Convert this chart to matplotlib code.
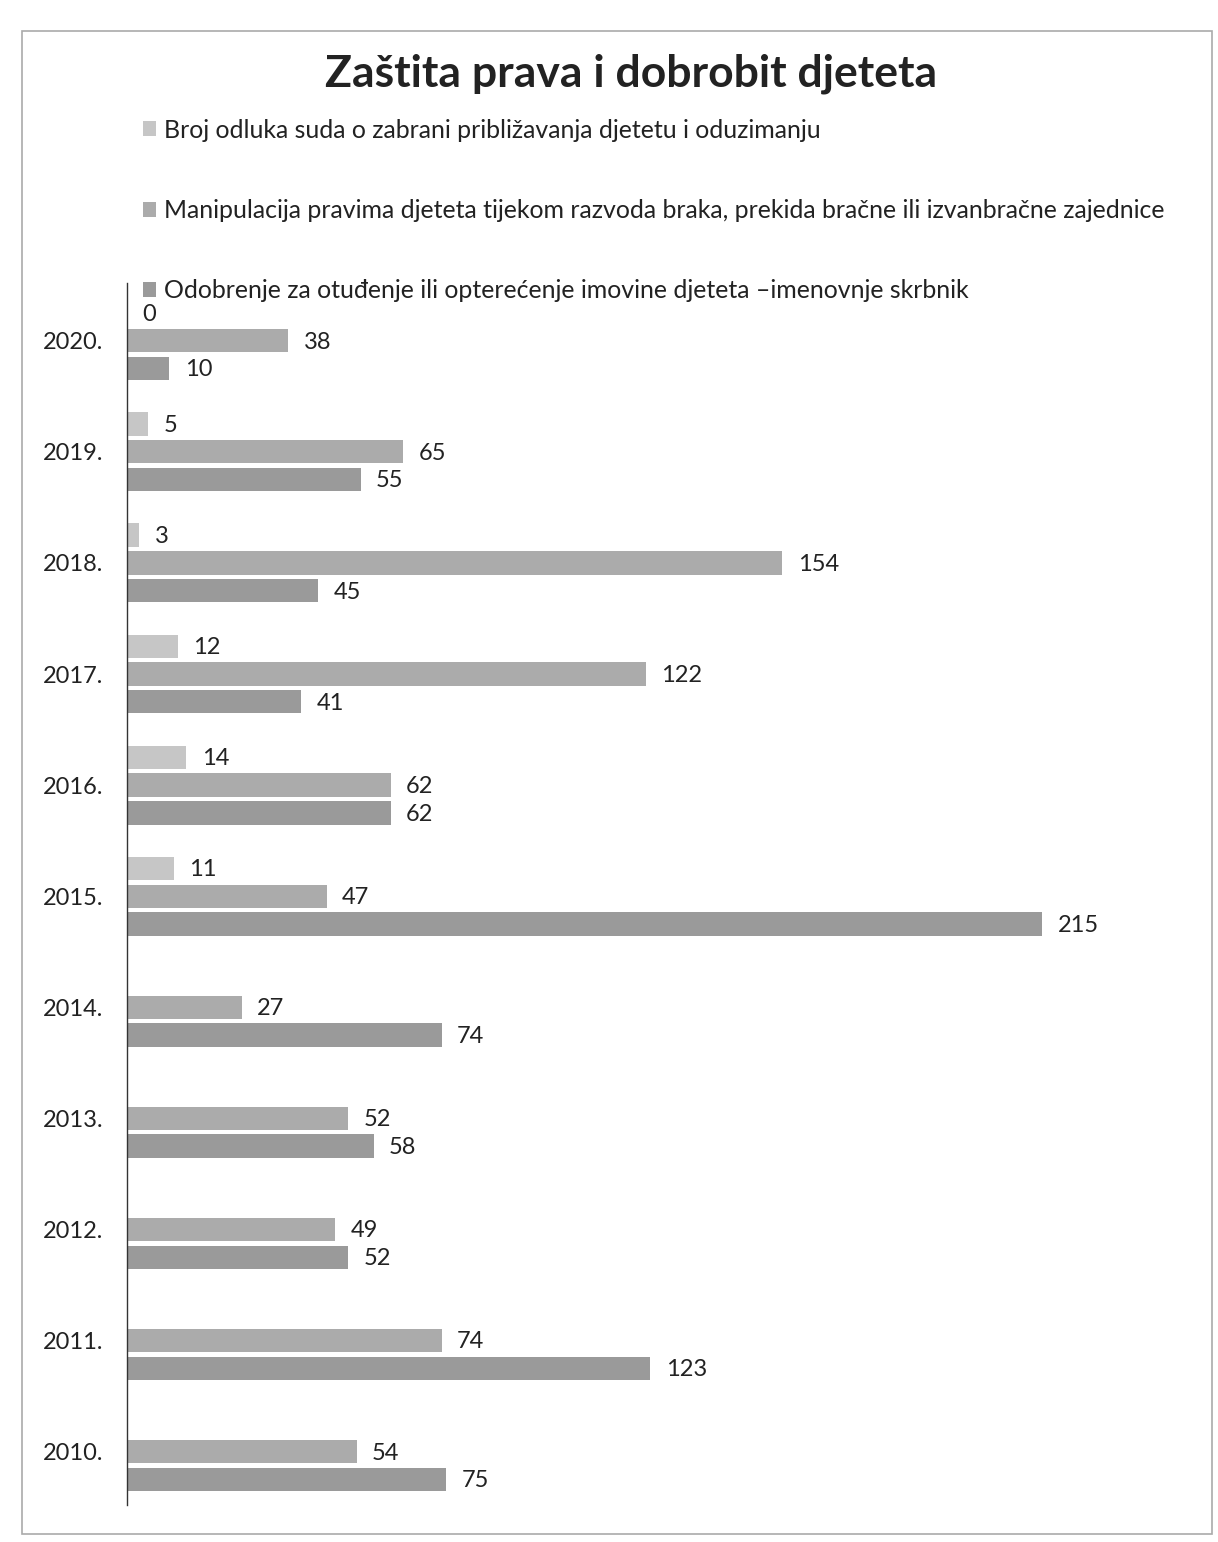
import numpy as np
import matplotlib.pyplot as plt
from matplotlib.patches import Rectangle

plt.rcParams['font.family'] = ['Lato', 'DejaVu Sans']

years = ['2020.', '2019.', '2018.', '2017.', '2016.', '2015.',
         '2014.', '2013.', '2012.', '2011.', '2010.']
zabrana = [0, 5, 3, 12, 14, 11, np.nan, np.nan, np.nan, np.nan, np.nan]
manipulacija = [38, 65, 154, 122, 62, 47, 27, 52, 49, 74, 54]
odobrenje = [10, 55, 45, 41, 62, 215, 74, 58, 52, 123, 75]

series_names = [
    'Broj odluka suda o zabrani približavanja djetetu i oduzimanju',
    'Manipulacija pravima djeteta tijekom razvoda braka, prekida bračne ili izvanbračne zajednice',
    'Odobrenje za otuđenje ili opterećenje imovine djeteta \u2013imenovnje skrbnik',
]
colors = ['#c6c6c6', '#ababab', '#9a9a9a']

fig = plt.figure(figsize=(12.18, 15.42), dpi=100)
ax = fig.add_axes([0.104, 0.024, 0.874, 0.7925])

y = np.arange(len(years))
offsets = [-0.25, 0.0, 0.25]
handles = []
for vals, off, c, name in zip([zabrana, manipulacija, odobrenje], offsets, colors, series_names):
    vals = np.array(vals, dtype=float)
    bars = ax.barh(y + off, np.nan_to_num(vals), height=0.21, color=c, label=name)
    handles.append(bars)
    for yi, v in zip(y, vals):
        if np.isnan(v):
            continue
        ax.annotate(f'{int(v)}', (v, yi + off), xytext=(11, -1), textcoords='offset points',
                    ha='left', va='center', fontsize=17, color='#222222')

ax.set_xlim(0, 250)
ax.set_ylim(len(years) - 0.52, -0.52)
ax.set_yticks(y)
ax.set_yticklabels(years, fontsize=17, color='#222222')
ax.tick_params(axis='y', length=0, pad=17)
ax.set_xticks([])
for s in ['top', 'right', 'bottom']:
    ax.spines[s].set_visible(False)
ax.spines['left'].set_color('#333333')
ax.spines['left'].set_linewidth(1.0)

fig.text(0.518, 0.952, 'Zaštita prava i dobrobit djeteta', ha='center', va='center',
         fontsize=32, fontweight='bold', color='#222222')

fig.legend(handles=handles, labels=series_names, loc='upper left',
           bbox_to_anchor=(0.117, 0.923), frameon=False, fontsize=17.9,
           handlelength=0.55, handleheight=0.55, handletextpad=0.3,
           labelspacing=2.3, borderpad=0, borderaxespad=0, labelcolor='#222222')

fig.patches.append(Rectangle((0.018, 0.005), 0.977, 0.975, transform=fig.transFigure,
                             fill=False, edgecolor='#aaaaaa', linewidth=1.2))

fig.savefig('out.png', dpi=100)
